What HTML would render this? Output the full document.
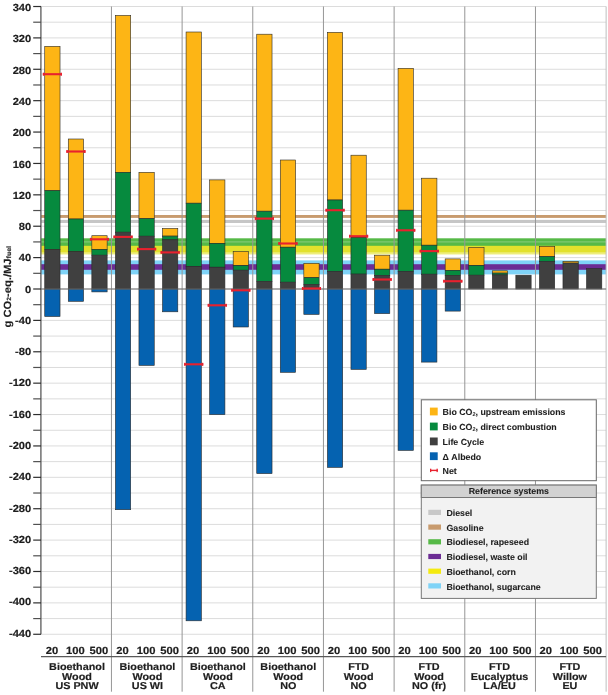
<!DOCTYPE html>
<html><head><meta charset="utf-8"><style>
html,body{margin:0;padding:0;background:#fff;}
body{width:608px;height:695px;overflow:hidden;}
svg{display:block;font-family:"Liberation Sans", sans-serif;will-change:transform;text-rendering:geometricPrecision;}
</style></head><body>
<svg width="608" height="695" viewBox="0 0 608 695">
<defs><linearGradient id="fade" x1="0" y1="0" x2="0" y2="1"><stop offset="0" stop-color="#E6E53C"/><stop offset="1" stop-color="#FFFFFF"/></linearGradient></defs>
<rect width="608" height="695" fill="#fff"/>
<line x1="41.0" y1="6.51" x2="606.1" y2="6.51" stroke="#DCDCDC" stroke-width="1"/>
<line x1="41.0" y1="22.20" x2="606.1" y2="22.20" stroke="#DCDCDC" stroke-width="1"/>
<line x1="41.0" y1="37.90" x2="606.1" y2="37.90" stroke="#DCDCDC" stroke-width="1"/>
<line x1="41.0" y1="53.59" x2="606.1" y2="53.59" stroke="#DCDCDC" stroke-width="1"/>
<line x1="41.0" y1="69.28" x2="606.1" y2="69.28" stroke="#DCDCDC" stroke-width="1"/>
<line x1="41.0" y1="84.98" x2="606.1" y2="84.98" stroke="#DCDCDC" stroke-width="1"/>
<line x1="41.0" y1="100.67" x2="606.1" y2="100.67" stroke="#DCDCDC" stroke-width="1"/>
<line x1="41.0" y1="116.37" x2="606.1" y2="116.37" stroke="#DCDCDC" stroke-width="1"/>
<line x1="41.0" y1="132.06" x2="606.1" y2="132.06" stroke="#DCDCDC" stroke-width="1"/>
<line x1="41.0" y1="147.75" x2="606.1" y2="147.75" stroke="#DCDCDC" stroke-width="1"/>
<line x1="41.0" y1="163.45" x2="606.1" y2="163.45" stroke="#DCDCDC" stroke-width="1"/>
<line x1="41.0" y1="179.14" x2="606.1" y2="179.14" stroke="#DCDCDC" stroke-width="1"/>
<line x1="41.0" y1="194.84" x2="606.1" y2="194.84" stroke="#DCDCDC" stroke-width="1"/>
<line x1="41.0" y1="210.53" x2="606.1" y2="210.53" stroke="#DCDCDC" stroke-width="1"/>
<line x1="41.0" y1="226.22" x2="606.1" y2="226.22" stroke="#DCDCDC" stroke-width="1"/>
<line x1="41.0" y1="241.92" x2="606.1" y2="241.92" stroke="#DCDCDC" stroke-width="1"/>
<line x1="41.0" y1="257.61" x2="606.1" y2="257.61" stroke="#DCDCDC" stroke-width="1"/>
<line x1="41.0" y1="273.31" x2="606.1" y2="273.31" stroke="#DCDCDC" stroke-width="1"/>
<line x1="41.0" y1="289.00" x2="606.1" y2="289.00" stroke="#DCDCDC" stroke-width="1"/>
<line x1="41.0" y1="304.69" x2="606.1" y2="304.69" stroke="#DCDCDC" stroke-width="1"/>
<line x1="41.0" y1="320.39" x2="606.1" y2="320.39" stroke="#DCDCDC" stroke-width="1"/>
<line x1="41.0" y1="336.08" x2="606.1" y2="336.08" stroke="#DCDCDC" stroke-width="1"/>
<line x1="41.0" y1="351.78" x2="606.1" y2="351.78" stroke="#DCDCDC" stroke-width="1"/>
<line x1="41.0" y1="367.47" x2="606.1" y2="367.47" stroke="#DCDCDC" stroke-width="1"/>
<line x1="41.0" y1="383.16" x2="606.1" y2="383.16" stroke="#DCDCDC" stroke-width="1"/>
<line x1="41.0" y1="398.86" x2="606.1" y2="398.86" stroke="#DCDCDC" stroke-width="1"/>
<line x1="41.0" y1="414.55" x2="606.1" y2="414.55" stroke="#DCDCDC" stroke-width="1"/>
<line x1="41.0" y1="430.25" x2="606.1" y2="430.25" stroke="#DCDCDC" stroke-width="1"/>
<line x1="41.0" y1="445.94" x2="606.1" y2="445.94" stroke="#DCDCDC" stroke-width="1"/>
<line x1="41.0" y1="461.63" x2="606.1" y2="461.63" stroke="#DCDCDC" stroke-width="1"/>
<line x1="41.0" y1="477.33" x2="606.1" y2="477.33" stroke="#DCDCDC" stroke-width="1"/>
<line x1="41.0" y1="493.02" x2="606.1" y2="493.02" stroke="#DCDCDC" stroke-width="1"/>
<line x1="41.0" y1="508.72" x2="606.1" y2="508.72" stroke="#DCDCDC" stroke-width="1"/>
<line x1="41.0" y1="524.41" x2="606.1" y2="524.41" stroke="#DCDCDC" stroke-width="1"/>
<line x1="41.0" y1="540.10" x2="606.1" y2="540.10" stroke="#DCDCDC" stroke-width="1"/>
<line x1="41.0" y1="555.80" x2="606.1" y2="555.80" stroke="#DCDCDC" stroke-width="1"/>
<line x1="41.0" y1="571.49" x2="606.1" y2="571.49" stroke="#DCDCDC" stroke-width="1"/>
<line x1="41.0" y1="587.19" x2="606.1" y2="587.19" stroke="#DCDCDC" stroke-width="1"/>
<line x1="41.0" y1="602.88" x2="606.1" y2="602.88" stroke="#DCDCDC" stroke-width="1"/>
<line x1="41.0" y1="618.57" x2="606.1" y2="618.57" stroke="#DCDCDC" stroke-width="1"/>
<line x1="41.0" y1="634.27" x2="606.1" y2="634.27" stroke="#DCDCDC" stroke-width="1"/>
<rect x="41.0" y="215.0" width="565.10" height="2.90" fill="#C89B6E"/>
<rect x="41.0" y="219.9" width="565.10" height="3.10" fill="#C6C6C6"/>
<rect x="41.0" y="238.3" width="565.10" height="7.70" fill="#56B947"/>
<rect x="41.0" y="245.8" width="565.10" height="6.80" fill="#E2E12C"/>
<rect x="41.0" y="252.6" width="565.10" height="2.80" fill="url(#fade)"/>
<rect x="41.0" y="260.4" width="565.10" height="14.00" fill="#7FD3F7"/>
<rect x="41.0" y="264.2" width="565.10" height="5.60" fill="#6B2C94"/>
<line x1="41.0" y1="241.92" x2="606.1" y2="241.92" stroke="#FFFFFF" stroke-opacity="0.3" stroke-width="1"/>
<line x1="111.45" y1="6.51" x2="111.45" y2="691.7" stroke="#969696" stroke-width="1"/>
<line x1="182.12" y1="6.51" x2="182.12" y2="691.7" stroke="#969696" stroke-width="1"/>
<line x1="252.78" y1="6.51" x2="252.78" y2="691.7" stroke="#969696" stroke-width="1"/>
<line x1="323.45" y1="6.51" x2="323.45" y2="691.7" stroke="#969696" stroke-width="1"/>
<line x1="394.12" y1="6.51" x2="394.12" y2="691.7" stroke="#969696" stroke-width="1"/>
<line x1="464.79" y1="6.51" x2="464.79" y2="691.7" stroke="#969696" stroke-width="1"/>
<line x1="535.46" y1="6.51" x2="535.46" y2="691.7" stroke="#969696" stroke-width="1"/>
<line x1="606.12" y1="6.51" x2="606.12" y2="691.7" stroke="#BEBEBE" stroke-width="1"/>
<rect x="44.73" y="46.30" width="15.3" height="144.40" fill="#FDB515" stroke="#2A2A2A" stroke-width="0.6"/>
<rect x="44.73" y="190.70" width="15.3" height="58.70" fill="#068A3E" stroke="#2A2A2A" stroke-width="0.6"/>
<rect x="44.73" y="249.40" width="15.3" height="39.60" fill="#404040" stroke="#2A2A2A" stroke-width="0.6"/>
<rect x="44.73" y="289.00" width="15.3" height="27.50" fill="#0562B0" stroke="#2A2A2A" stroke-width="0.6"/>
<rect x="68.28" y="139.00" width="15.3" height="80.00" fill="#FDB515" stroke="#2A2A2A" stroke-width="0.6"/>
<rect x="68.28" y="219.00" width="15.3" height="32.60" fill="#068A3E" stroke="#2A2A2A" stroke-width="0.6"/>
<rect x="68.28" y="251.60" width="15.3" height="37.40" fill="#404040" stroke="#2A2A2A" stroke-width="0.6"/>
<rect x="68.28" y="289.00" width="15.3" height="12.30" fill="#0562B0" stroke="#2A2A2A" stroke-width="0.6"/>
<rect x="91.83" y="235.70" width="15.3" height="13.70" fill="#FDB515" stroke="#2A2A2A" stroke-width="0.6"/>
<rect x="91.83" y="249.40" width="15.3" height="5.80" fill="#068A3E" stroke="#2A2A2A" stroke-width="0.6"/>
<rect x="91.83" y="255.20" width="15.3" height="33.80" fill="#404040" stroke="#2A2A2A" stroke-width="0.6"/>
<rect x="91.83" y="289.00" width="15.3" height="2.90" fill="#0562B0" stroke="#2A2A2A" stroke-width="0.6"/>
<rect x="115.40" y="15.40" width="15.3" height="156.90" fill="#FDB515" stroke="#2A2A2A" stroke-width="0.6"/>
<rect x="115.40" y="172.30" width="15.3" height="59.90" fill="#068A3E" stroke="#2A2A2A" stroke-width="0.6"/>
<rect x="115.40" y="232.20" width="15.3" height="56.80" fill="#404040" stroke="#2A2A2A" stroke-width="0.6"/>
<rect x="115.40" y="289.00" width="15.3" height="220.70" fill="#0562B0" stroke="#2A2A2A" stroke-width="0.6"/>
<rect x="138.95" y="172.30" width="15.3" height="46.30" fill="#FDB515" stroke="#2A2A2A" stroke-width="0.6"/>
<rect x="138.95" y="218.60" width="15.3" height="17.60" fill="#068A3E" stroke="#2A2A2A" stroke-width="0.6"/>
<rect x="138.95" y="236.20" width="15.3" height="52.80" fill="#404040" stroke="#2A2A2A" stroke-width="0.6"/>
<rect x="138.95" y="289.00" width="15.3" height="76.40" fill="#0562B0" stroke="#2A2A2A" stroke-width="0.6"/>
<rect x="162.50" y="228.40" width="15.3" height="7.70" fill="#FDB515" stroke="#2A2A2A" stroke-width="0.6"/>
<rect x="162.50" y="236.10" width="15.3" height="3.70" fill="#068A3E" stroke="#2A2A2A" stroke-width="0.6"/>
<rect x="162.50" y="239.80" width="15.3" height="49.20" fill="#404040" stroke="#2A2A2A" stroke-width="0.6"/>
<rect x="162.50" y="289.00" width="15.3" height="22.80" fill="#0562B0" stroke="#2A2A2A" stroke-width="0.6"/>
<rect x="186.07" y="32.00" width="15.3" height="171.20" fill="#FDB515" stroke="#2A2A2A" stroke-width="0.6"/>
<rect x="186.07" y="203.20" width="15.3" height="63.10" fill="#068A3E" stroke="#2A2A2A" stroke-width="0.6"/>
<rect x="186.07" y="266.30" width="15.3" height="22.70" fill="#404040" stroke="#2A2A2A" stroke-width="0.6"/>
<rect x="186.07" y="289.00" width="15.3" height="331.80" fill="#0562B0" stroke="#2A2A2A" stroke-width="0.6"/>
<rect x="209.62" y="179.90" width="15.3" height="63.40" fill="#FDB515" stroke="#2A2A2A" stroke-width="0.6"/>
<rect x="209.62" y="243.30" width="15.3" height="23.90" fill="#068A3E" stroke="#2A2A2A" stroke-width="0.6"/>
<rect x="209.62" y="267.20" width="15.3" height="21.80" fill="#404040" stroke="#2A2A2A" stroke-width="0.6"/>
<rect x="209.62" y="289.00" width="15.3" height="125.60" fill="#0562B0" stroke="#2A2A2A" stroke-width="0.6"/>
<rect x="233.17" y="251.60" width="15.3" height="13.90" fill="#FDB515" stroke="#2A2A2A" stroke-width="0.6"/>
<rect x="233.17" y="265.50" width="15.3" height="4.70" fill="#068A3E" stroke="#2A2A2A" stroke-width="0.6"/>
<rect x="233.17" y="270.20" width="15.3" height="18.80" fill="#404040" stroke="#2A2A2A" stroke-width="0.6"/>
<rect x="233.17" y="289.00" width="15.3" height="38.00" fill="#0562B0" stroke="#2A2A2A" stroke-width="0.6"/>
<rect x="256.73" y="34.20" width="15.3" height="177.00" fill="#FDB515" stroke="#2A2A2A" stroke-width="0.6"/>
<rect x="256.73" y="211.20" width="15.3" height="70.20" fill="#068A3E" stroke="#2A2A2A" stroke-width="0.6"/>
<rect x="256.73" y="281.40" width="15.3" height="7.60" fill="#404040" stroke="#2A2A2A" stroke-width="0.6"/>
<rect x="256.73" y="289.00" width="15.3" height="184.60" fill="#0562B0" stroke="#2A2A2A" stroke-width="0.6"/>
<rect x="280.28" y="160.00" width="15.3" height="87.20" fill="#FDB515" stroke="#2A2A2A" stroke-width="0.6"/>
<rect x="280.28" y="247.20" width="15.3" height="35.00" fill="#068A3E" stroke="#2A2A2A" stroke-width="0.6"/>
<rect x="280.28" y="282.20" width="15.3" height="6.80" fill="#404040" stroke="#2A2A2A" stroke-width="0.6"/>
<rect x="280.28" y="289.00" width="15.3" height="83.30" fill="#0562B0" stroke="#2A2A2A" stroke-width="0.6"/>
<rect x="303.83" y="263.30" width="15.3" height="14.40" fill="#FDB515" stroke="#2A2A2A" stroke-width="0.6"/>
<rect x="303.83" y="277.70" width="15.3" height="6.70" fill="#068A3E" stroke="#2A2A2A" stroke-width="0.6"/>
<rect x="303.83" y="284.40" width="15.3" height="4.60" fill="#404040" stroke="#2A2A2A" stroke-width="0.6"/>
<rect x="303.83" y="289.00" width="15.3" height="25.40" fill="#0562B0" stroke="#2A2A2A" stroke-width="0.6"/>
<rect x="327.40" y="32.30" width="15.3" height="167.70" fill="#FDB515" stroke="#2A2A2A" stroke-width="0.6"/>
<rect x="327.40" y="200.00" width="15.3" height="71.40" fill="#068A3E" stroke="#2A2A2A" stroke-width="0.6"/>
<rect x="327.40" y="271.40" width="15.3" height="17.60" fill="#404040" stroke="#2A2A2A" stroke-width="0.6"/>
<rect x="327.40" y="289.00" width="15.3" height="178.40" fill="#0562B0" stroke="#2A2A2A" stroke-width="0.6"/>
<rect x="350.95" y="155.20" width="15.3" height="82.40" fill="#FDB515" stroke="#2A2A2A" stroke-width="0.6"/>
<rect x="350.95" y="237.60" width="15.3" height="36.50" fill="#068A3E" stroke="#2A2A2A" stroke-width="0.6"/>
<rect x="350.95" y="274.10" width="15.3" height="14.90" fill="#404040" stroke="#2A2A2A" stroke-width="0.6"/>
<rect x="350.95" y="289.00" width="15.3" height="80.40" fill="#0562B0" stroke="#2A2A2A" stroke-width="0.6"/>
<rect x="374.50" y="255.20" width="15.3" height="14.00" fill="#FDB515" stroke="#2A2A2A" stroke-width="0.6"/>
<rect x="374.50" y="269.20" width="15.3" height="6.10" fill="#068A3E" stroke="#2A2A2A" stroke-width="0.6"/>
<rect x="374.50" y="275.30" width="15.3" height="13.70" fill="#404040" stroke="#2A2A2A" stroke-width="0.6"/>
<rect x="374.50" y="289.00" width="15.3" height="24.60" fill="#0562B0" stroke="#2A2A2A" stroke-width="0.6"/>
<rect x="398.07" y="68.30" width="15.3" height="141.90" fill="#FDB515" stroke="#2A2A2A" stroke-width="0.6"/>
<rect x="398.07" y="210.20" width="15.3" height="61.20" fill="#068A3E" stroke="#2A2A2A" stroke-width="0.6"/>
<rect x="398.07" y="271.40" width="15.3" height="17.60" fill="#404040" stroke="#2A2A2A" stroke-width="0.6"/>
<rect x="398.07" y="289.00" width="15.3" height="161.40" fill="#0562B0" stroke="#2A2A2A" stroke-width="0.6"/>
<rect x="421.62" y="178.20" width="15.3" height="67.00" fill="#FDB515" stroke="#2A2A2A" stroke-width="0.6"/>
<rect x="421.62" y="245.20" width="15.3" height="29.00" fill="#068A3E" stroke="#2A2A2A" stroke-width="0.6"/>
<rect x="421.62" y="274.20" width="15.3" height="14.80" fill="#404040" stroke="#2A2A2A" stroke-width="0.6"/>
<rect x="421.62" y="289.00" width="15.3" height="73.10" fill="#0562B0" stroke="#2A2A2A" stroke-width="0.6"/>
<rect x="445.17" y="258.90" width="15.3" height="11.50" fill="#FDB515" stroke="#2A2A2A" stroke-width="0.6"/>
<rect x="445.17" y="270.40" width="15.3" height="5.00" fill="#068A3E" stroke="#2A2A2A" stroke-width="0.6"/>
<rect x="445.17" y="275.40" width="15.3" height="13.60" fill="#404040" stroke="#2A2A2A" stroke-width="0.6"/>
<rect x="445.17" y="289.00" width="15.3" height="22.10" fill="#0562B0" stroke="#2A2A2A" stroke-width="0.6"/>
<rect x="468.74" y="247.30" width="15.3" height="18.10" fill="#FDB515" stroke="#2A2A2A" stroke-width="0.6"/>
<rect x="468.74" y="265.40" width="15.3" height="9.80" fill="#068A3E" stroke="#2A2A2A" stroke-width="0.6"/>
<rect x="468.74" y="275.20" width="15.3" height="13.80" fill="#404040" stroke="#2A2A2A" stroke-width="0.6"/>
<rect x="492.29" y="270.80" width="15.3" height="2.30" fill="#FDB515" stroke="#2A2A2A" stroke-width="0.6"/>
<rect x="492.29" y="273.10" width="15.3" height="1.80" fill="#068A3E" stroke="#2A2A2A" stroke-width="0.6"/>
<rect x="492.29" y="274.90" width="15.3" height="14.10" fill="#404040" stroke="#2A2A2A" stroke-width="0.6"/>
<rect x="515.84" y="275.20" width="15.3" height="13.80" fill="#404040" stroke="#2A2A2A" stroke-width="0.6"/>
<rect x="539.41" y="246.30" width="15.3" height="10.30" fill="#FDB515" stroke="#2A2A2A" stroke-width="0.6"/>
<rect x="539.41" y="256.60" width="15.3" height="4.80" fill="#068A3E" stroke="#2A2A2A" stroke-width="0.6"/>
<rect x="539.41" y="261.40" width="15.3" height="27.60" fill="#404040" stroke="#2A2A2A" stroke-width="0.6"/>
<rect x="562.96" y="261.30" width="15.3" height="1.80" fill="#FDB515" stroke="#2A2A2A" stroke-width="0.6"/>
<rect x="562.96" y="263.10" width="15.3" height="25.90" fill="#404040" stroke="#2A2A2A" stroke-width="0.6"/>
<rect x="586.51" y="268.50" width="15.3" height="20.50" fill="#404040" stroke="#2A2A2A" stroke-width="0.6"/>
<line x1="41.0" y1="289.0" x2="606.1" y2="289.0" stroke="#6E6E6E" stroke-width="1"/>
<line x1="42.83" y1="74.20" x2="61.93" y2="74.20" stroke="#E8212E" stroke-width="2.1"/>
<rect x="42.83" y="72.70" width="1.4" height="3" fill="#E8212E"/>
<rect x="60.53" y="72.70" width="1.4" height="3" fill="#E8212E"/>
<line x1="66.38" y1="151.50" x2="85.48" y2="151.50" stroke="#E8212E" stroke-width="2.1"/>
<rect x="66.38" y="150.00" width="1.4" height="3" fill="#E8212E"/>
<rect x="84.08" y="150.00" width="1.4" height="3" fill="#E8212E"/>
<line x1="89.93" y1="239.30" x2="109.03" y2="239.30" stroke="#E8212E" stroke-width="2.1"/>
<rect x="89.93" y="237.80" width="1.4" height="3" fill="#E8212E"/>
<rect x="107.63" y="237.80" width="1.4" height="3" fill="#E8212E"/>
<line x1="113.50" y1="236.90" x2="132.60" y2="236.90" stroke="#E8212E" stroke-width="2.1"/>
<rect x="113.50" y="235.40" width="1.4" height="3" fill="#E8212E"/>
<rect x="131.20" y="235.40" width="1.4" height="3" fill="#E8212E"/>
<line x1="137.05" y1="249.10" x2="156.15" y2="249.10" stroke="#E8212E" stroke-width="2.1"/>
<rect x="137.05" y="247.60" width="1.4" height="3" fill="#E8212E"/>
<rect x="154.75" y="247.60" width="1.4" height="3" fill="#E8212E"/>
<line x1="160.60" y1="252.40" x2="179.70" y2="252.40" stroke="#E8212E" stroke-width="2.1"/>
<rect x="160.60" y="250.90" width="1.4" height="3" fill="#E8212E"/>
<rect x="178.30" y="250.90" width="1.4" height="3" fill="#E8212E"/>
<line x1="184.17" y1="364.30" x2="203.27" y2="364.30" stroke="#E8212E" stroke-width="2.1"/>
<rect x="184.17" y="362.80" width="1.4" height="3" fill="#E8212E"/>
<rect x="201.87" y="362.80" width="1.4" height="3" fill="#E8212E"/>
<line x1="207.72" y1="305.30" x2="226.82" y2="305.30" stroke="#E8212E" stroke-width="2.1"/>
<rect x="207.72" y="303.80" width="1.4" height="3" fill="#E8212E"/>
<rect x="225.42" y="303.80" width="1.4" height="3" fill="#E8212E"/>
<line x1="231.27" y1="290.30" x2="250.37" y2="290.30" stroke="#E8212E" stroke-width="2.1"/>
<rect x="231.27" y="288.80" width="1.4" height="3" fill="#E8212E"/>
<rect x="248.97" y="288.80" width="1.4" height="3" fill="#E8212E"/>
<line x1="254.83" y1="218.60" x2="273.93" y2="218.60" stroke="#E8212E" stroke-width="2.1"/>
<rect x="254.83" y="217.10" width="1.4" height="3" fill="#E8212E"/>
<rect x="272.53" y="217.10" width="1.4" height="3" fill="#E8212E"/>
<line x1="278.38" y1="243.50" x2="297.48" y2="243.50" stroke="#E8212E" stroke-width="2.1"/>
<rect x="278.38" y="242.00" width="1.4" height="3" fill="#E8212E"/>
<rect x="296.08" y="242.00" width="1.4" height="3" fill="#E8212E"/>
<line x1="301.93" y1="288.50" x2="321.03" y2="288.50" stroke="#E8212E" stroke-width="2.1"/>
<rect x="301.93" y="287.00" width="1.4" height="3" fill="#E8212E"/>
<rect x="319.63" y="287.00" width="1.4" height="3" fill="#E8212E"/>
<line x1="325.50" y1="210.20" x2="344.60" y2="210.20" stroke="#E8212E" stroke-width="2.1"/>
<rect x="325.50" y="208.70" width="1.4" height="3" fill="#E8212E"/>
<rect x="343.20" y="208.70" width="1.4" height="3" fill="#E8212E"/>
<line x1="349.05" y1="236.20" x2="368.15" y2="236.20" stroke="#E8212E" stroke-width="2.1"/>
<rect x="349.05" y="234.70" width="1.4" height="3" fill="#E8212E"/>
<rect x="366.75" y="234.70" width="1.4" height="3" fill="#E8212E"/>
<line x1="372.60" y1="279.50" x2="391.70" y2="279.50" stroke="#E8212E" stroke-width="2.1"/>
<rect x="372.60" y="278.00" width="1.4" height="3" fill="#E8212E"/>
<rect x="390.30" y="278.00" width="1.4" height="3" fill="#E8212E"/>
<line x1="396.17" y1="230.30" x2="415.27" y2="230.30" stroke="#E8212E" stroke-width="2.1"/>
<rect x="396.17" y="228.80" width="1.4" height="3" fill="#E8212E"/>
<rect x="413.87" y="228.80" width="1.4" height="3" fill="#E8212E"/>
<line x1="419.72" y1="251.10" x2="438.82" y2="251.10" stroke="#E8212E" stroke-width="2.1"/>
<rect x="419.72" y="249.60" width="1.4" height="3" fill="#E8212E"/>
<rect x="437.42" y="249.60" width="1.4" height="3" fill="#E8212E"/>
<line x1="443.27" y1="281.20" x2="462.37" y2="281.20" stroke="#E8212E" stroke-width="2.1"/>
<rect x="443.27" y="279.70" width="1.4" height="3" fill="#E8212E"/>
<rect x="460.97" y="279.70" width="1.4" height="3" fill="#E8212E"/>
<line x1="40.9" y1="6.51" x2="40.9" y2="634.27" stroke="#666666" stroke-width="1.4"/>
<line x1="33.2" y1="6.51" x2="41.0" y2="6.51" stroke="#2E2E2E" stroke-width="1.2"/>
<line x1="33.2" y1="22.20" x2="41.0" y2="22.20" stroke="#505050" stroke-width="1.2"/>
<line x1="33.2" y1="37.90" x2="41.0" y2="37.90" stroke="#2E2E2E" stroke-width="1.2"/>
<line x1="33.2" y1="53.59" x2="41.0" y2="53.59" stroke="#505050" stroke-width="1.2"/>
<line x1="33.2" y1="69.28" x2="41.0" y2="69.28" stroke="#2E2E2E" stroke-width="1.2"/>
<line x1="33.2" y1="84.98" x2="41.0" y2="84.98" stroke="#505050" stroke-width="1.2"/>
<line x1="33.2" y1="100.67" x2="41.0" y2="100.67" stroke="#2E2E2E" stroke-width="1.2"/>
<line x1="33.2" y1="116.37" x2="41.0" y2="116.37" stroke="#505050" stroke-width="1.2"/>
<line x1="33.2" y1="132.06" x2="41.0" y2="132.06" stroke="#2E2E2E" stroke-width="1.2"/>
<line x1="33.2" y1="147.75" x2="41.0" y2="147.75" stroke="#505050" stroke-width="1.2"/>
<line x1="33.2" y1="163.45" x2="41.0" y2="163.45" stroke="#2E2E2E" stroke-width="1.2"/>
<line x1="33.2" y1="179.14" x2="41.0" y2="179.14" stroke="#505050" stroke-width="1.2"/>
<line x1="33.2" y1="194.84" x2="41.0" y2="194.84" stroke="#2E2E2E" stroke-width="1.2"/>
<line x1="33.2" y1="210.53" x2="41.0" y2="210.53" stroke="#505050" stroke-width="1.2"/>
<line x1="33.2" y1="226.22" x2="41.0" y2="226.22" stroke="#2E2E2E" stroke-width="1.2"/>
<line x1="33.2" y1="241.92" x2="41.0" y2="241.92" stroke="#505050" stroke-width="1.2"/>
<line x1="33.2" y1="257.61" x2="41.0" y2="257.61" stroke="#2E2E2E" stroke-width="1.2"/>
<line x1="33.2" y1="273.31" x2="41.0" y2="273.31" stroke="#505050" stroke-width="1.2"/>
<line x1="33.2" y1="289.00" x2="41.0" y2="289.00" stroke="#2E2E2E" stroke-width="1.2"/>
<line x1="33.2" y1="304.69" x2="41.0" y2="304.69" stroke="#505050" stroke-width="1.2"/>
<line x1="33.2" y1="320.39" x2="41.0" y2="320.39" stroke="#2E2E2E" stroke-width="1.2"/>
<line x1="33.2" y1="336.08" x2="41.0" y2="336.08" stroke="#505050" stroke-width="1.2"/>
<line x1="33.2" y1="351.78" x2="41.0" y2="351.78" stroke="#2E2E2E" stroke-width="1.2"/>
<line x1="33.2" y1="367.47" x2="41.0" y2="367.47" stroke="#505050" stroke-width="1.2"/>
<line x1="33.2" y1="383.16" x2="41.0" y2="383.16" stroke="#2E2E2E" stroke-width="1.2"/>
<line x1="33.2" y1="398.86" x2="41.0" y2="398.86" stroke="#505050" stroke-width="1.2"/>
<line x1="33.2" y1="414.55" x2="41.0" y2="414.55" stroke="#2E2E2E" stroke-width="1.2"/>
<line x1="33.2" y1="430.25" x2="41.0" y2="430.25" stroke="#505050" stroke-width="1.2"/>
<line x1="33.2" y1="445.94" x2="41.0" y2="445.94" stroke="#2E2E2E" stroke-width="1.2"/>
<line x1="33.2" y1="461.63" x2="41.0" y2="461.63" stroke="#505050" stroke-width="1.2"/>
<line x1="33.2" y1="477.33" x2="41.0" y2="477.33" stroke="#2E2E2E" stroke-width="1.2"/>
<line x1="33.2" y1="493.02" x2="41.0" y2="493.02" stroke="#505050" stroke-width="1.2"/>
<line x1="33.2" y1="508.72" x2="41.0" y2="508.72" stroke="#2E2E2E" stroke-width="1.2"/>
<line x1="33.2" y1="524.41" x2="41.0" y2="524.41" stroke="#505050" stroke-width="1.2"/>
<line x1="33.2" y1="540.10" x2="41.0" y2="540.10" stroke="#2E2E2E" stroke-width="1.2"/>
<line x1="33.2" y1="555.80" x2="41.0" y2="555.80" stroke="#505050" stroke-width="1.2"/>
<line x1="33.2" y1="571.49" x2="41.0" y2="571.49" stroke="#2E2E2E" stroke-width="1.2"/>
<line x1="33.2" y1="587.19" x2="41.0" y2="587.19" stroke="#505050" stroke-width="1.2"/>
<line x1="33.2" y1="602.88" x2="41.0" y2="602.88" stroke="#2E2E2E" stroke-width="1.2"/>
<line x1="33.2" y1="618.57" x2="41.0" y2="618.57" stroke="#505050" stroke-width="1.2"/>
<line x1="33.2" y1="634.27" x2="41.0" y2="634.27" stroke="#2E2E2E" stroke-width="1.2"/>
<text transform="translate(31.20,11.11) scale(1.08,1)" text-anchor="end" font-size="10.3" font-weight="bold" fill="#1E1E1E" stroke="#1E1E1E" stroke-width="0.18" >340</text>
<text transform="translate(31.20,42.39) scale(1.08,1)" text-anchor="end" font-size="10.3" font-weight="bold" fill="#1E1E1E" stroke="#1E1E1E" stroke-width="0.18" >320</text>
<text transform="translate(31.20,73.66) scale(1.08,1)" text-anchor="end" font-size="10.3" font-weight="bold" fill="#1E1E1E" stroke="#1E1E1E" stroke-width="0.18" >280</text>
<text transform="translate(31.20,104.94) scale(1.08,1)" text-anchor="end" font-size="10.3" font-weight="bold" fill="#1E1E1E" stroke="#1E1E1E" stroke-width="0.18" >240</text>
<text transform="translate(31.20,136.22) scale(1.08,1)" text-anchor="end" font-size="10.3" font-weight="bold" fill="#1E1E1E" stroke="#1E1E1E" stroke-width="0.18" >200</text>
<text transform="translate(31.20,167.50) scale(1.08,1)" text-anchor="end" font-size="10.3" font-weight="bold" fill="#1E1E1E" stroke="#1E1E1E" stroke-width="0.18" >160</text>
<text transform="translate(31.20,198.78) scale(1.08,1)" text-anchor="end" font-size="10.3" font-weight="bold" fill="#1E1E1E" stroke="#1E1E1E" stroke-width="0.18" >120</text>
<text transform="translate(31.20,230.05) scale(1.08,1)" text-anchor="end" font-size="10.3" font-weight="bold" fill="#1E1E1E" stroke="#1E1E1E" stroke-width="0.18" >80</text>
<text transform="translate(31.20,261.33) scale(1.08,1)" text-anchor="end" font-size="10.3" font-weight="bold" fill="#1E1E1E" stroke="#1E1E1E" stroke-width="0.18" >40</text>
<text transform="translate(31.20,292.61) scale(1.08,1)" text-anchor="end" font-size="10.3" font-weight="bold" fill="#1E1E1E" stroke="#1E1E1E" stroke-width="0.18" >0</text>
<text transform="translate(31.20,323.89) scale(1.08,1)" text-anchor="end" font-size="10.3" font-weight="bold" fill="#1E1E1E" stroke="#1E1E1E" stroke-width="0.18" >-40</text>
<text transform="translate(31.20,355.17) scale(1.08,1)" text-anchor="end" font-size="10.3" font-weight="bold" fill="#1E1E1E" stroke="#1E1E1E" stroke-width="0.18" >-80</text>
<text transform="translate(31.20,386.45) scale(1.08,1)" text-anchor="end" font-size="10.3" font-weight="bold" fill="#1E1E1E" stroke="#1E1E1E" stroke-width="0.18" >-120</text>
<text transform="translate(31.20,417.72) scale(1.08,1)" text-anchor="end" font-size="10.3" font-weight="bold" fill="#1E1E1E" stroke="#1E1E1E" stroke-width="0.18" >-160</text>
<text transform="translate(31.20,449.00) scale(1.08,1)" text-anchor="end" font-size="10.3" font-weight="bold" fill="#1E1E1E" stroke="#1E1E1E" stroke-width="0.18" >-200</text>
<text transform="translate(31.20,480.28) scale(1.08,1)" text-anchor="end" font-size="10.3" font-weight="bold" fill="#1E1E1E" stroke="#1E1E1E" stroke-width="0.18" >-240</text>
<text transform="translate(31.20,511.56) scale(1.08,1)" text-anchor="end" font-size="10.3" font-weight="bold" fill="#1E1E1E" stroke="#1E1E1E" stroke-width="0.18" >-280</text>
<text transform="translate(31.20,542.84) scale(1.08,1)" text-anchor="end" font-size="10.3" font-weight="bold" fill="#1E1E1E" stroke="#1E1E1E" stroke-width="0.18" >-320</text>
<text transform="translate(31.20,574.11) scale(1.08,1)" text-anchor="end" font-size="10.3" font-weight="bold" fill="#1E1E1E" stroke="#1E1E1E" stroke-width="0.18" >-360</text>
<text transform="translate(31.20,605.39) scale(1.08,1)" text-anchor="end" font-size="10.3" font-weight="bold" fill="#1E1E1E" stroke="#1E1E1E" stroke-width="0.18" >-400</text>
<text transform="translate(31.20,636.67) scale(1.08,1)" text-anchor="end" font-size="10.3" font-weight="bold" fill="#1E1E1E" stroke="#1E1E1E" stroke-width="0.18" >-440</text>
<text transform="translate(10.9,327.4) rotate(-90) scale(1,0.93)" font-size="11.2" font-weight="bold" fill="#1E1E1E" stroke="#1E1E1E" stroke-width="0.15">g CO<tspan font-size="6.6" dy="0.6">2</tspan><tspan dy="-0.6">-eq./MJ</tspan><tspan font-size="7.0" dy="0.3">fuel</tspan></text>
<line x1="41.0" y1="656.6" x2="606.1" y2="656.6" stroke="#5A5A5A" stroke-width="1.2"/>
<text transform="translate(51.98,653.80) scale(1.08,1)" text-anchor="middle" font-size="10.4" font-weight="bold" fill="#1E1E1E" stroke="#1E1E1E" stroke-width="0.18" >20</text>
<text transform="translate(75.48,653.80) scale(1.08,1)" text-anchor="middle" font-size="10.4" font-weight="bold" fill="#1E1E1E" stroke="#1E1E1E" stroke-width="0.18" >100</text>
<text transform="translate(98.99,653.80) scale(1.08,1)" text-anchor="middle" font-size="10.4" font-weight="bold" fill="#1E1E1E" stroke="#1E1E1E" stroke-width="0.18" >500</text>
<text transform="translate(77.01,670.10) scale(1.08,1)" text-anchor="middle" font-size="10" font-weight="bold" fill="#1E1E1E" stroke="#1E1E1E" stroke-width="0.18" >Bioethanol</text>
<text transform="translate(77.01,679.75) scale(1.08,1)" text-anchor="middle" font-size="10" font-weight="bold" fill="#1E1E1E" stroke="#1E1E1E" stroke-width="0.18" >Wood</text>
<text transform="translate(77.01,689.40) scale(1.08,1)" text-anchor="middle" font-size="10" font-weight="bold" fill="#1E1E1E" stroke="#1E1E1E" stroke-width="0.18" >US PNW</text>
<text transform="translate(122.51,653.80) scale(1.08,1)" text-anchor="middle" font-size="10.4" font-weight="bold" fill="#1E1E1E" stroke="#1E1E1E" stroke-width="0.18" >20</text>
<text transform="translate(146.01,653.80) scale(1.08,1)" text-anchor="middle" font-size="10.4" font-weight="bold" fill="#1E1E1E" stroke="#1E1E1E" stroke-width="0.18" >100</text>
<text transform="translate(169.51,653.80) scale(1.08,1)" text-anchor="middle" font-size="10.4" font-weight="bold" fill="#1E1E1E" stroke="#1E1E1E" stroke-width="0.18" >500</text>
<text transform="translate(147.42,670.10) scale(1.08,1)" text-anchor="middle" font-size="10" font-weight="bold" fill="#1E1E1E" stroke="#1E1E1E" stroke-width="0.18" >Bioethanol</text>
<text transform="translate(147.42,679.75) scale(1.08,1)" text-anchor="middle" font-size="10" font-weight="bold" fill="#1E1E1E" stroke="#1E1E1E" stroke-width="0.18" >Wood</text>
<text transform="translate(147.42,689.40) scale(1.08,1)" text-anchor="middle" font-size="10" font-weight="bold" fill="#1E1E1E" stroke="#1E1E1E" stroke-width="0.18" >US WI</text>
<text transform="translate(193.03,653.80) scale(1.08,1)" text-anchor="middle" font-size="10.4" font-weight="bold" fill="#1E1E1E" stroke="#1E1E1E" stroke-width="0.18" >20</text>
<text transform="translate(216.54,653.80) scale(1.08,1)" text-anchor="middle" font-size="10.4" font-weight="bold" fill="#1E1E1E" stroke="#1E1E1E" stroke-width="0.18" >100</text>
<text transform="translate(240.04,653.80) scale(1.08,1)" text-anchor="middle" font-size="10.4" font-weight="bold" fill="#1E1E1E" stroke="#1E1E1E" stroke-width="0.18" >500</text>
<text transform="translate(217.84,670.10) scale(1.08,1)" text-anchor="middle" font-size="10" font-weight="bold" fill="#1E1E1E" stroke="#1E1E1E" stroke-width="0.18" >Bioethanol</text>
<text transform="translate(217.84,679.75) scale(1.08,1)" text-anchor="middle" font-size="10" font-weight="bold" fill="#1E1E1E" stroke="#1E1E1E" stroke-width="0.18" >Wood</text>
<text transform="translate(217.84,689.40) scale(1.08,1)" text-anchor="middle" font-size="10" font-weight="bold" fill="#1E1E1E" stroke="#1E1E1E" stroke-width="0.18" >CA</text>
<text transform="translate(263.56,653.80) scale(1.08,1)" text-anchor="middle" font-size="10.4" font-weight="bold" fill="#1E1E1E" stroke="#1E1E1E" stroke-width="0.18" >20</text>
<text transform="translate(287.06,653.80) scale(1.08,1)" text-anchor="middle" font-size="10.4" font-weight="bold" fill="#1E1E1E" stroke="#1E1E1E" stroke-width="0.18" >100</text>
<text transform="translate(310.57,653.80) scale(1.08,1)" text-anchor="middle" font-size="10.4" font-weight="bold" fill="#1E1E1E" stroke="#1E1E1E" stroke-width="0.18" >500</text>
<text transform="translate(288.25,670.10) scale(1.08,1)" text-anchor="middle" font-size="10" font-weight="bold" fill="#1E1E1E" stroke="#1E1E1E" stroke-width="0.18" >Bioethanol</text>
<text transform="translate(288.25,679.75) scale(1.08,1)" text-anchor="middle" font-size="10" font-weight="bold" fill="#1E1E1E" stroke="#1E1E1E" stroke-width="0.18" >Wood</text>
<text transform="translate(288.25,689.40) scale(1.08,1)" text-anchor="middle" font-size="10" font-weight="bold" fill="#1E1E1E" stroke="#1E1E1E" stroke-width="0.18" >NO</text>
<text transform="translate(334.09,653.80) scale(1.08,1)" text-anchor="middle" font-size="10.4" font-weight="bold" fill="#1E1E1E" stroke="#1E1E1E" stroke-width="0.18" >20</text>
<text transform="translate(357.59,653.80) scale(1.08,1)" text-anchor="middle" font-size="10.4" font-weight="bold" fill="#1E1E1E" stroke="#1E1E1E" stroke-width="0.18" >100</text>
<text transform="translate(381.09,653.80) scale(1.08,1)" text-anchor="middle" font-size="10.4" font-weight="bold" fill="#1E1E1E" stroke="#1E1E1E" stroke-width="0.18" >500</text>
<text transform="translate(358.66,670.10) scale(1.08,1)" text-anchor="middle" font-size="10" font-weight="bold" fill="#1E1E1E" stroke="#1E1E1E" stroke-width="0.18" >FTD</text>
<text transform="translate(358.66,679.75) scale(1.08,1)" text-anchor="middle" font-size="10" font-weight="bold" fill="#1E1E1E" stroke="#1E1E1E" stroke-width="0.18" >Wood</text>
<text transform="translate(358.66,689.40) scale(1.08,1)" text-anchor="middle" font-size="10" font-weight="bold" fill="#1E1E1E" stroke="#1E1E1E" stroke-width="0.18" >NO</text>
<text transform="translate(404.61,653.80) scale(1.08,1)" text-anchor="middle" font-size="10.4" font-weight="bold" fill="#1E1E1E" stroke="#1E1E1E" stroke-width="0.18" >20</text>
<text transform="translate(428.12,653.80) scale(1.08,1)" text-anchor="middle" font-size="10.4" font-weight="bold" fill="#1E1E1E" stroke="#1E1E1E" stroke-width="0.18" >100</text>
<text transform="translate(451.62,653.80) scale(1.08,1)" text-anchor="middle" font-size="10.4" font-weight="bold" fill="#1E1E1E" stroke="#1E1E1E" stroke-width="0.18" >500</text>
<text transform="translate(429.07,670.10) scale(1.08,1)" text-anchor="middle" font-size="10" font-weight="bold" fill="#1E1E1E" stroke="#1E1E1E" stroke-width="0.18" >FTD</text>
<text transform="translate(429.07,679.75) scale(1.08,1)" text-anchor="middle" font-size="10" font-weight="bold" fill="#1E1E1E" stroke="#1E1E1E" stroke-width="0.18" >Wood</text>
<text transform="translate(429.07,689.40) scale(1.08,1)" text-anchor="middle" font-size="10" font-weight="bold" fill="#1E1E1E" stroke="#1E1E1E" stroke-width="0.18" >NO (fr)</text>
<text transform="translate(475.14,653.80) scale(1.08,1)" text-anchor="middle" font-size="10.4" font-weight="bold" fill="#1E1E1E" stroke="#1E1E1E" stroke-width="0.18" >20</text>
<text transform="translate(498.64,653.80) scale(1.08,1)" text-anchor="middle" font-size="10.4" font-weight="bold" fill="#1E1E1E" stroke="#1E1E1E" stroke-width="0.18" >100</text>
<text transform="translate(522.15,653.80) scale(1.08,1)" text-anchor="middle" font-size="10.4" font-weight="bold" fill="#1E1E1E" stroke="#1E1E1E" stroke-width="0.18" >500</text>
<text transform="translate(499.48,670.10) scale(1.08,1)" text-anchor="middle" font-size="10" font-weight="bold" fill="#1E1E1E" stroke="#1E1E1E" stroke-width="0.18" >FTD</text>
<text transform="translate(499.48,679.75) scale(1.08,1)" text-anchor="middle" font-size="10" font-weight="bold" fill="#1E1E1E" stroke="#1E1E1E" stroke-width="0.18" >Eucalyptus</text>
<text transform="translate(499.48,689.40) scale(1.08,1)" text-anchor="middle" font-size="10" font-weight="bold" fill="#1E1E1E" stroke="#1E1E1E" stroke-width="0.18" >LA/EU</text>
<text transform="translate(545.67,653.80) scale(1.08,1)" text-anchor="middle" font-size="10.4" font-weight="bold" fill="#1E1E1E" stroke="#1E1E1E" stroke-width="0.18" >20</text>
<text transform="translate(569.17,653.80) scale(1.08,1)" text-anchor="middle" font-size="10.4" font-weight="bold" fill="#1E1E1E" stroke="#1E1E1E" stroke-width="0.18" >100</text>
<text transform="translate(592.67,653.80) scale(1.08,1)" text-anchor="middle" font-size="10.4" font-weight="bold" fill="#1E1E1E" stroke="#1E1E1E" stroke-width="0.18" >500</text>
<text transform="translate(569.89,670.10) scale(1.08,1)" text-anchor="middle" font-size="10" font-weight="bold" fill="#1E1E1E" stroke="#1E1E1E" stroke-width="0.18" >FTD</text>
<text transform="translate(569.89,679.75) scale(1.08,1)" text-anchor="middle" font-size="10" font-weight="bold" fill="#1E1E1E" stroke="#1E1E1E" stroke-width="0.18" >Willow</text>
<text transform="translate(569.89,689.40) scale(1.08,1)" text-anchor="middle" font-size="10" font-weight="bold" fill="#1E1E1E" stroke="#1E1E1E" stroke-width="0.18" >EU</text>
<rect x="421.3" y="399.8" width="175.0" height="80.9" fill="#FFFFFF" stroke="#666666" stroke-width="1"/>
<rect x="429.9" y="407.60" width="7.8" height="7.8" fill="#FDB515"/>
<text transform="translate(442.60,415.10) scale(1,1)" text-anchor="start" font-size="8.8" font-weight="bold" fill="#1E1E1E" stroke="#1E1E1E" stroke-width="0.08" >Bio CO<tspan font-size="5.6" dy="0.9" stroke-width="0">2</tspan><tspan dy="-0.9">, upstream emissions</tspan></text>
<rect x="429.9" y="422.60" width="7.8" height="7.8" fill="#068A3E"/>
<text transform="translate(442.60,430.10) scale(1,1)" text-anchor="start" font-size="8.8" font-weight="bold" fill="#1E1E1E" stroke="#1E1E1E" stroke-width="0.08" >Bio CO<tspan font-size="5.6" dy="0.9" stroke-width="0">2</tspan><tspan dy="-0.9">, direct combustion</tspan></text>
<rect x="429.9" y="437.50" width="7.8" height="7.8" fill="#404040"/>
<text transform="translate(442.60,445.00) scale(1,1)" text-anchor="start" font-size="8.8" font-weight="bold" fill="#1E1E1E" stroke="#1E1E1E" stroke-width="0.08" >Life Cycle</text>
<rect x="429.9" y="452.30" width="7.8" height="7.8" fill="#0562B0"/>
<text transform="translate(442.60,459.80) scale(1,1)" text-anchor="start" font-size="8.8" font-weight="bold" fill="#1E1E1E" stroke="#1E1E1E" stroke-width="0.08" >&#916; Albedo</text>
<line x1="430" y1="470.40" x2="437.8" y2="470.40" stroke="#E8212E" stroke-width="1.4"/>
<rect x="430" y="468.70" width="1.3" height="3.4" fill="#E8212E"/>
<rect x="436.5" y="468.70" width="1.3" height="3.4" fill="#E8212E"/>
<text transform="translate(442.60,474.00) scale(1,1)" text-anchor="start" font-size="8.8" font-weight="bold" fill="#1E1E1E" stroke="#1E1E1E" stroke-width="0.08" >Net</text>
<rect x="421.3" y="485.1" width="175.0" height="113.3" fill="#F2F2F2" stroke="#777777" stroke-width="1"/>
<rect x="421.3" y="485.1" width="175.0" height="12.4" fill="#D2D2D2" stroke="#777777" stroke-width="1"/>
<text transform="translate(508.80,494.00) scale(1,1)" text-anchor="middle" font-size="8.8" font-weight="bold" fill="#1E1E1E" stroke="#1E1E1E" stroke-width="0.08" >Reference systems</text>
<rect x="428.3" y="509.80" width="12.7" height="5.2" fill="#C8C8C8"/>
<text transform="translate(446.40,516.00) scale(1,1)" text-anchor="start" font-size="8.8" font-weight="bold" fill="#1E1E1E" stroke="#1E1E1E" stroke-width="0.08" >Diesel</text>
<rect x="428.3" y="524.50" width="12.7" height="5.2" fill="#C89B6E"/>
<text transform="translate(446.40,530.70) scale(1,1)" text-anchor="start" font-size="8.8" font-weight="bold" fill="#1E1E1E" stroke="#1E1E1E" stroke-width="0.08" >Gasoline</text>
<rect x="428.3" y="539.20" width="12.7" height="5.2" fill="#56B947"/>
<text transform="translate(446.40,545.40) scale(1,1)" text-anchor="start" font-size="8.8" font-weight="bold" fill="#1E1E1E" stroke="#1E1E1E" stroke-width="0.08" >Biodiesel, rapeseed</text>
<rect x="428.3" y="553.90" width="12.7" height="5.2" fill="#6B2C94"/>
<text transform="translate(446.40,560.10) scale(1,1)" text-anchor="start" font-size="8.8" font-weight="bold" fill="#1E1E1E" stroke="#1E1E1E" stroke-width="0.08" >Biodiesel, waste oil</text>
<rect x="428.3" y="568.60" width="12.7" height="5.2" fill="#F4EA10"/>
<text transform="translate(446.40,574.80) scale(1,1)" text-anchor="start" font-size="8.8" font-weight="bold" fill="#1E1E1E" stroke="#1E1E1E" stroke-width="0.08" >Bioethanol, corn</text>
<rect x="428.3" y="583.30" width="12.7" height="5.2" fill="#7FD3F7"/>
<text transform="translate(446.40,589.50) scale(1,1)" text-anchor="start" font-size="8.8" font-weight="bold" fill="#1E1E1E" stroke="#1E1E1E" stroke-width="0.08" >Bioethanol, sugarcane</text>
</svg>
</body></html>
